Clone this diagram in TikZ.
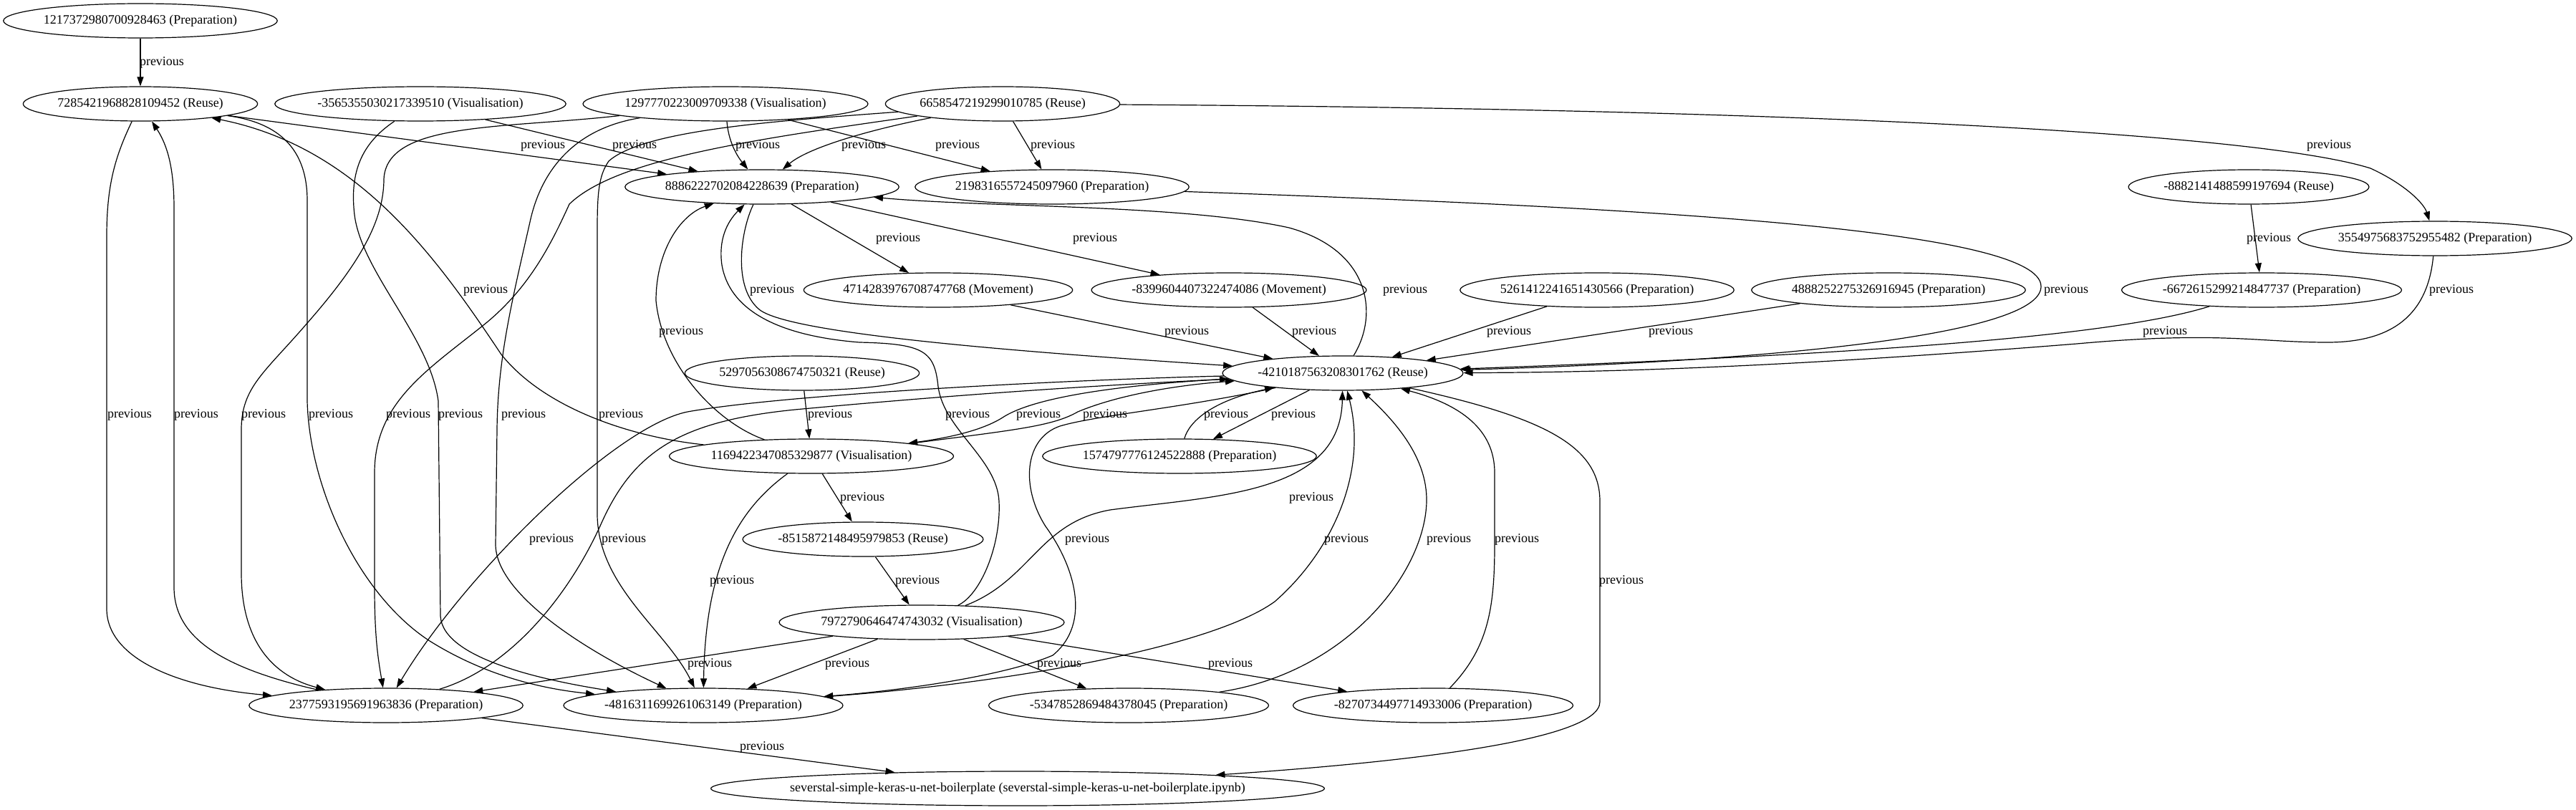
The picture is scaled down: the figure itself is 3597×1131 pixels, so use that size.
\documentclass[tikz,border=0pt]{standalone}
\usepackage{fontspec}
\setmainfont{Liberation Serif}
\usetikzlibrary{arrows.meta, shapes.geometric}

\begin{document}
\begin{tikzpicture}[
    x=1pt, y=-1pt,
    font=\fontsize{18}{20}\selectfont,
    arr/.style={-{Triangle[length=13pt, width=9pt]}, line width=1.2pt},
    op/.style={ellipse, draw, line width=1.2pt, inner xsep=0pt, inner ysep=0pt, minimum height=48pt},
    prev/.style={inner sep=0pt},
]
\useasboundingbox (0,0) rectangle (3597,1131);

% ============ Cells, top rows ============
\node[op] (n1217) at (196,29) {1217372980700928463 (Preparation)};
\node[op] (n7285) at (196,145) {7285421968828109452 (Reuse)};
\node[op] (m3565) at (587,145) {-3565355030217339510 (Visualisation)};
\node[op] (n1297) at (1013,145) {1297770223009709338 (Visualisation)};
\node[op] (n6658) at (1400,145) {6658547219299010785 (Reuse)};
\node[op] (n8886) at (1064,261) {8886222702084228639 (Preparation)};
\node[op] (n2198) at (1469,261) {2198316557245097960 (Preparation)};
\node[op] (m8882) at (3140,261) {-8882141488599197694 (Reuse)};
\node[op] (n3554) at (3400,333) {3554975683752955482 (Preparation)};

% ============ Cells, middle rows ============
\node[op] (n4714) at (1310,405) {4714283976708747768 (Movement)};
\node[op] (m8399) at (1716,405) {-8399604407322474086 (Movement)};
\node[op] (n5261) at (2230,405) {5261412241651430566 (Preparation)};
\node[op] (n4888) at (2637,405) {4888252275326916945 (Preparation)};
\node[op] (m6672) at (3158,405) {-6672615299214847737 (Preparation)};
\node[op] (m4210) at (1875,521) {-4210187563208301762 (Reuse)};
\node[op] (n5297) at (1120,521) {5297056308674750321 (Reuse)};
\node[op] (n1169) at (1133,637) {1169422347085329877 (Visualisation)};
\node[op] (n1574) at (1647,637) {1574797776124522888 (Preparation)};
\node[op] (m8515) at (1205,753) {-8515872148495979853 (Reuse)};
\node[op] (n7972) at (1287,869) {7972790646474743032 (Visualisation)};

% ============ Cells, bottom rows ============
\node[op] (n2377) at (539,985) {2377593195691963836 (Preparation)};
\node[op] (m4816) at (982,985) {-4816311699261063149 (Preparation)};
\node[op] (m5347) at (1576,985) {-5347852869484378045 (Preparation)};
\node[op] (m8270) at (2001,985) {-8270734497714933006 (Preparation)};
\node[op, inner xsep=-15pt] (nsev) at (1421,1101) {severstal-simple-keras-u-net-boilerplate (severstal-simple-keras-u-net-boilerplate.ipynb)};

% ============ Edges from the top rows ============
\draw[arr] (n1217) -- (n7285);
\draw[arr] (n7285) -- (n8886);
\draw[arr] (m3565) -- (n8886);
\draw[arr] (n1297) .. controls (1017,195) and (1027,215) .. (n8886);
\draw[arr] (n6658) .. controls (1220,180) and (1130,205) .. (n8886);
\draw[arr] (n1297) -- (n2198);
\draw[arr] (n6658) -- (n2198);
\draw[arr] (n6658) .. controls (2500,152) and (3150,185) .. (3310,235) .. controls (3360,258) and (3385,285) .. (n3554);

% long edges down the left side
\draw[arr] (n7285) .. controls (160,220) and (149,260) .. (149,330) -- (149,850) .. controls (149,920) and (250,960) .. (n2377);
\draw[arr] (n2377) .. controls (320,935) and (243,895) .. (243,820) -- (243,290) .. controls (243,230) and (232,200) .. (n7285);
\draw[arr] (n1297) .. controls (700,180) and (540,170) .. (536,250) .. controls (536,310) and (500,370) .. (430,450) .. controls (370,520) and (337,540) .. (337,600) -- (337,800) .. controls (337,900) and (385,945) .. (n2377);
\draw[arr] (n7285) .. controls (380,170) and (429,200) .. (429,280) -- (429,560) .. controls (432,680) and (500,830) .. (600,895) .. controls (680,945) and (760,962) .. (m4816);
\draw[arr] (n6658) .. controls (1050,195) and (860,222) .. (795,285) .. controls (770,340) and (740,400) .. (680,450) .. controls (600,515) and (523,560) .. (523,660) -- (523,820) .. controls (523,890) and (528,920) .. (n2377);
\draw[arr] (m3565) .. controls (505,200) and (488,240) .. (495,300) .. controls (505,380) and (600,470) .. (612,560) -- (615,860) .. controls (618,920) and (760,950) .. (m4816);
\draw[arr] (n1297) .. controls (800,180) and (755,240) .. (740,310) .. controls (715,420) and (695,500) .. (694,600) -- (692,760) .. controls (692,830) and (820,910) .. (m4816);
\draw[arr] (n6658) .. controls (1100,168) and (900,180) .. (850,225) .. controls (836,245) and (834,270) .. (834,320) -- (834,720) .. controls (836,820) and (930,880) .. (m4816);
\draw[arr] (n1169) .. controls (880,610) and (760,570) .. (700,495) .. controls (610,360) and (500,205) .. (n7285);

% ============ Edges round 8886222702084228639 ============
\draw[arr] (n8886) -- (n4714);
\draw[arr] (n8886) -- (m8399);
\draw[arr] (n8886) .. controls (1035,320) and (1022,400) .. (1060,432) .. controls (1100,465) and (1400,490) .. (m4210);
\draw[arr] (m4210) .. controls (1925,440) and (1915,350) .. (1800,318) .. controls (1650,285) and (1380,290) .. (n8886);
\draw[arr] (n1169) .. controls (1000,590) and (925,510) .. (916,420) .. controls (916,350) and (950,300) .. (n8886);
\draw[arr] (n7972) .. controls (1370,830) and (1398,760) .. (1395,700) .. controls (1392,640) and (1318,600) .. (1310,540) .. controls (1305,490) and (1290,480) .. (1200,478) .. controls (1100,470) and (1020,440) .. (1008,370) .. controls (1003,335) and (1015,310) .. (n8886);

% ============ Edges into -4210187563208301762 ============
\draw[arr] (n2198) .. controls (2300,290) and (2850,320) .. (2850,400) .. controls (2850,470) and (2450,505) .. (m4210);
\draw[arr] (m8882) -- (m6672);
\draw[arr] (m6672) .. controls (2950,470) and (2600,495) .. (m4210);
\draw[arr] (n3554) .. controls (3390,440) and (3340,478) .. (3250,478) .. controls (3150,478) and (3100,462) .. (2900,480) .. controls (2500,512) and (2250,520) .. (m4210);
\draw[arr] (n4714) -- (m4210);
\draw[arr] (m8399) -- (m4210);
\draw[arr] (n5261) -- (m4210);
\draw[arr] (n4888) -- (m4210);
\draw[arr] (n1169) .. controls (1420,600) and (1470,595) .. (1505,575) .. controls (1560,552) and (1640,538) .. (m4210);
\draw[arr] (m4210) .. controls (1600,535) and (1450,550) .. (1400,583) .. controls (1370,602) and (1320,612) .. (n1169);
\draw[arr] (m4210) -- (n1574);
\draw[arr] (n1574) .. controls (1660,590) and (1690,560) .. (m4210);
\draw[arr] (n7972) .. controls (1440,810) and (1450,730) .. (1550,712) .. controls (1700,692) and (1872,690) .. (m4210);
\draw[arr] (m5347) .. controls (1880,940) and (1990,800) .. (1992,700) .. controls (1993,640) and (1950,590) .. (m4210);
\draw[arr] (m8270) .. controls (2078,905) and (2087,850) .. (2087,760) -- (2087,660) .. controls (2087,600) and (2040,565) .. (m4210);
\draw[arr] (m4816) .. controls (1400,955) and (1690,905) .. (1780,840) .. controls (1860,770) and (1910,660) .. (m4210);
\draw[arr] (m4210) .. controls (1650,570) and (1530,580) .. (1480,595) .. controls (1430,612) and (1425,680) .. (1460,735) .. controls (1500,790) and (1525,870) .. (1470,915) .. controls (1400,945) and (1250,965) .. (m4816);
\draw[arr] (m4210) .. controls (1500,530) and (1100,550) .. (960,575) .. controls (860,595) and (650,800) .. (n2377);
\draw[arr] (n2377) .. controls (720,930) and (800,820) .. (840,730) .. controls (885,630) and (950,588) .. (1110,572) .. controls (1400,545) and (1600,535) .. (m4210);
\draw[arr] (m4210) .. controls (2150,582) and (2234,620) .. (2234,700) -- (2234,980) .. controls (2234,1035) and (1950,1065) .. (nsev);

% ============ Visualisation chain ============
\draw[arr] (n5297) -- (n1169);
\draw[arr] (n1169) -- (m8515);
\draw[arr] (m8515) -- (n7972);
\draw[arr] (n1169) .. controls (1030,712) and (985,790) .. (m4816);
\draw[arr] (n7972) -- (n2377);
\draw[arr] (n7972) -- (m4816);
\draw[arr] (n7972) -- (m5347);
\draw[arr] (n7972) -- (m8270);
\draw[arr] (n2377) -- (nsev);

% ============ Edge labels ============
\node[prev] (e01) at (226,87) {previous};
\node[prev] (e02) at (758,203) {previous};
\node[prev] (e03) at (886,203) {previous};
\node[prev] (e04) at (1058,203) {previous};
\node[prev] (e05) at (1206,203) {previous};
\node[prev] (e06) at (1337,203) {previous};
\node[prev] (e07) at (1470,203) {previous};
\node[prev] (e08) at (3252,203) {previous};
\node[prev] (e09) at (1254,333) {previous};
\node[prev] (e10) at (1529,333) {previous};
\node[prev] (e11) at (3168,333) {previous};
\node[prev] (e12) at (678,405) {previous};
\node[prev] (e13) at (1078,405) {previous};
\node[prev] (e14) at (1962,405) {previous};
\node[prev] (e15) at (2885,405) {previous};
\node[prev] (e16) at (3423,405) {previous};
\node[prev] (e17) at (951,463) {previous};
\node[prev] (e18) at (1657,463) {previous};
\node[prev] (e19) at (1835,463) {previous};
\node[prev] (e20) at (2107,463) {previous};
\node[prev] (e21) at (2333,463) {previous};
\node[prev] (e22) at (3023,463) {previous};
\node[prev] (e23) at (181,579) {previous};
\node[prev] (e24) at (274,579) {previous};
\node[prev] (e25) at (368,579) {previous};
\node[prev] (e26) at (462,579) {previous};
\node[prev] (e27) at (570,579) {previous};
\node[prev] (e28) at (643,579) {previous};
\node[prev] (e29) at (731,579) {previous};
\node[prev] (e30) at (867,579) {previous};
\node[prev] (e31) at (1159,579) {previous};
\node[prev] (e32) at (1351,579) {previous};
\node[prev] (e33) at (1450,579) {previous};
\node[prev] (e34) at (1543,579) {previous};
\node[prev] (e35) at (1712,579) {previous};
\node[prev] (e36) at (1806,579) {previous};
\node[prev] (e37) at (1204,695) {previous};
\node[prev] (e38) at (1831,695) {previous};
\node[prev] (e39) at (770,753) {previous};
\node[prev] (e40) at (871,753) {previous};
\node[prev] (e41) at (1518,753) {previous};
\node[prev] (e42) at (1880,753) {previous};
\node[prev] (e43) at (2023,753) {previous};
\node[prev] (e44) at (2118,753) {previous};
\node[prev] (e45) at (1022,811) {previous};
\node[prev] (e46) at (1281,811) {previous};
\node[prev] (e47) at (2264,811) {previous};
\node[prev] (e48) at (991,927) {previous};
\node[prev] (e49) at (1183,927) {previous};
\node[prev] (e50) at (1479,927) {previous};
\node[prev] (e51) at (1718,927) {previous};
\node[prev] (e52) at (1064,1043) {previous};

\end{tikzpicture}
\end{document}
